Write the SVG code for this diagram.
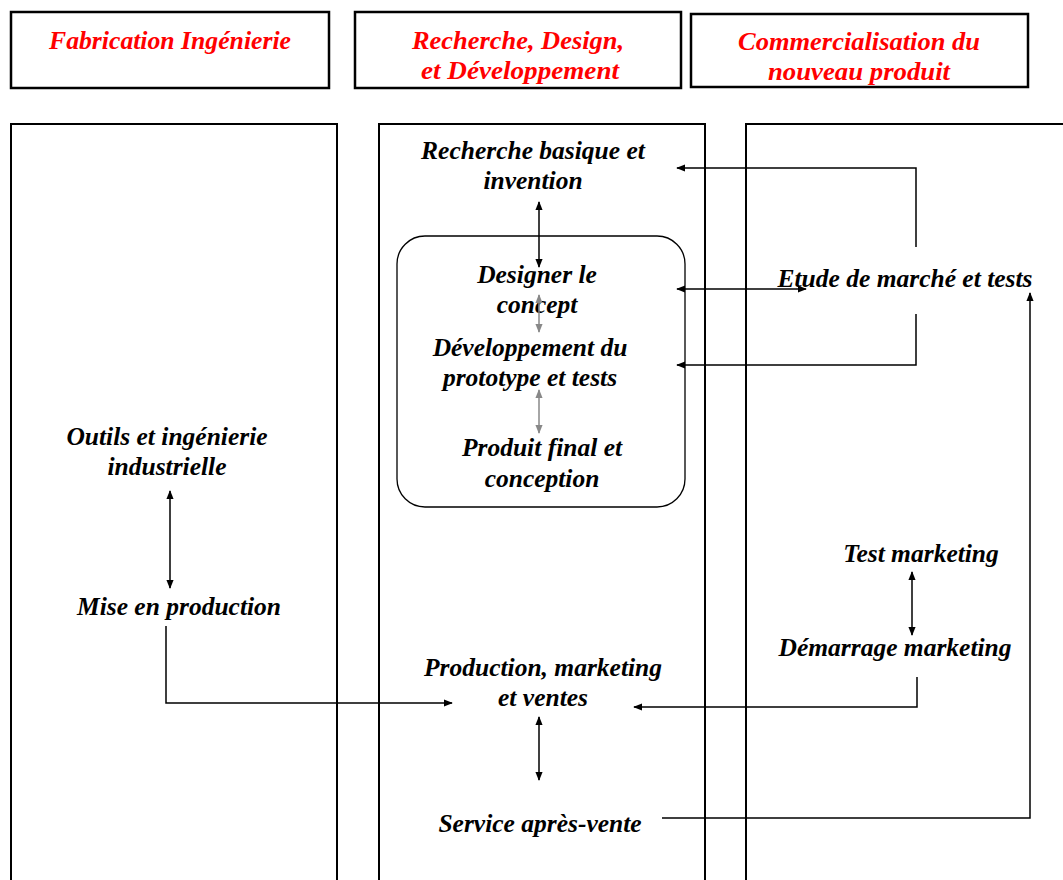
<svg xmlns="http://www.w3.org/2000/svg" width="1063" height="880" viewBox="0 0 1063 880">
<style>
.hdr{fill:#fff;stroke:#000;stroke-width:2.5}
.col{fill:none;stroke:#000;stroke-width:2}
.ht{font-family:"Liberation Serif",serif;font-weight:bold;font-style:italic;font-size:25px;fill:#ff0000;text-anchor:middle}
.t{font-family:"Liberation Serif",serif;font-weight:bold;font-style:italic;font-size:25.5px;fill:#000;text-anchor:middle}
.c{fill:none;stroke:#000;stroke-width:1.5}
.g{fill:none;stroke:#888;stroke-width:1.5}
</style>
<defs>
<marker id="a" viewBox="0 0 10 10" refX="9" refY="5" markerWidth="9" markerHeight="9" markerUnits="userSpaceOnUse" orient="auto-start-reverse"><path d="M0,1 L10,5 L0,9 Z" fill="#000"/></marker>
<marker id="ag" viewBox="0 0 10 10" refX="9" refY="5" markerWidth="9" markerHeight="9" markerUnits="userSpaceOnUse" orient="auto-start-reverse"><path d="M0,1 L10,5 L0,9 Z" fill="#888"/></marker>
</defs>
<rect width="1063" height="880" fill="#fff"/>
<g id="header-fabrication"><rect class="hdr" x="11" y="12" width="318" height="76"/><text class="ht" x="170" y="49" textLength="242" lengthAdjust="spacingAndGlyphs">Fabrication Ingénierie</text></g>
<g id="header-recherche"><rect class="hdr" x="355" y="12" width="326" height="76"/><text class="ht"><tspan x="518" y="49" textLength="212" lengthAdjust="spacingAndGlyphs">Recherche, Design,</tspan><tspan x="520" y="79" textLength="198" lengthAdjust="spacingAndGlyphs">et Développement</tspan></text></g>
<g id="header-commercialisation"><rect class="hdr" x="691" y="14" width="337" height="73"/><text class="ht"><tspan x="859" y="50" textLength="242" lengthAdjust="spacingAndGlyphs">Commercialisation du</tspan><tspan x="859" y="80" textLength="182" lengthAdjust="spacingAndGlyphs">nouveau produit</tspan></text></g>
<g id="column-1"><path class="col" d="M11,882 V124 H337 V882"/></g>
<g id="column-2"><path class="col" d="M379,882 V124 H705 V882"/></g>
<g id="column-3"><path class="col" d="M746,882 V124 H1066"/></g>
<g id="group-box"><rect x="397" y="236" width="288" height="271" rx="28" ry="28" fill="none" stroke="#000" stroke-width="1.3"/></g>
<g id="n-recherche"><text class="t"><tspan x="533" y="159">Recherche basique et</tspan><tspan x="533" y="189">invention</tspan></text></g>
<g id="n-designer"><text class="t"><tspan x="537" y="283">Designer le</tspan><tspan x="537" y="313">concept</tspan></text></g>
<g id="n-dev"><text class="t"><tspan x="530" y="356">Développement du</tspan><tspan x="530" y="386">prototype et tests</tspan></text></g>
<g id="n-produit"><text class="t"><tspan x="542" y="456">Produit final et</tspan><tspan x="542" y="487">conception</tspan></text></g>
<g id="n-etude"><text class="t" x="905" y="287">Etude de marché et tests</text></g>
<g id="n-outils"><text class="t"><tspan x="167" y="445">Outils et ingénierie</tspan><tspan x="167" y="475">industrielle</tspan></text></g>
<g id="n-mise"><text class="t" x="179" y="615">Mise en production</text></g>
<g id="n-production"><text class="t"><tspan x="543" y="676">Production, marketing</tspan><tspan x="543" y="706">et ventes</tspan></text></g>
<g id="n-service"><text class="t" x="540" y="832">Service après-vente</text></g>
<g id="n-test"><text class="t" x="921" y="562">Test marketing</text></g>
<g id="n-demarrage"><text class="t" x="895" y="656">Démarrage marketing</text></g>
<g id="connectors">
<line class="c" x1="539" y1="202" x2="539" y2="267" marker-start="url(#a)" marker-end="url(#a)"/>
<line class="g" x1="539" y1="295" x2="539" y2="332" marker-start="url(#ag)" marker-end="url(#ag)"/>
<line class="g" x1="539" y1="390" x2="539" y2="433" marker-start="url(#ag)" marker-end="url(#ag)"/>
<line class="c" x1="170" y1="491" x2="170" y2="588" marker-start="url(#a)" marker-end="url(#a)"/>
<line class="c" x1="539" y1="717" x2="539" y2="780" marker-start="url(#a)" marker-end="url(#a)"/>
<line class="c" x1="912" y1="572" x2="912" y2="635" marker-start="url(#a)" marker-end="url(#a)"/>
<polyline class="c" points="916,247 916,168 677,168" marker-end="url(#a)"/>
<polyline class="c" points="916,314 916,365 677,365" marker-end="url(#a)"/>
<line class="c" x1="677" y1="289" x2="806" y2="289" marker-start="url(#a)" marker-end="url(#a)"/>
<polyline class="c" points="166,626 166,703 452,703" marker-end="url(#a)"/>
<polyline class="c" points="917,677 917,707 634,707" marker-end="url(#a)"/>
<polyline class="c" points="662,818 1030,818 1030,293" marker-end="url(#a)"/>
</g>
</svg>
